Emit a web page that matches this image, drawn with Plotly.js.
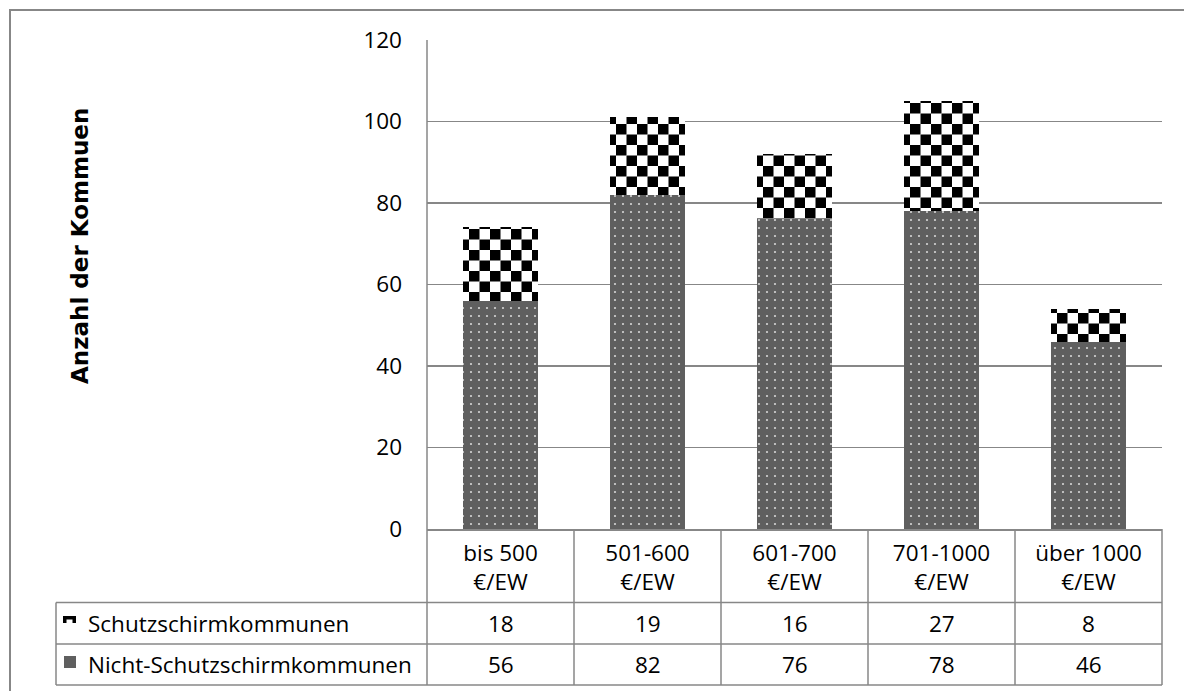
<!DOCTYPE html>
<html><head><meta charset="utf-8">
<script src="https://cdn.plot.ly/plotly-3.0.1.min.js"></script>
<style>html,body{margin:0;padding:0;background:#fff;}#chart{width:1184px;height:691px;}</style>
</head><body><div id="chart"></div>
<script>
// ---- data ----
const categories = ['bis 500<br>€/EW', '501-600<br>€/EW', '601-700<br>€/EW', '701-1000<br>€/EW', 'über 1000<br>€/EW'];
const seriesNames = ['Schutzschirmkommunen', 'Nicht-Schutzschirmkommunen'];
const schutz = [18, 19, 16, 27, 8];
const nicht = [56, 82, 76, 78, 46];
const yTicks = [0, 20, 40, 60, 80, 100, 120];
const yTitle = 'Anzahl der Kommuen';

// ---- layout helpers (pixel -> paper) ----
const PL = 427, PR = 1162, PT = 40, PB = 529;
const px = v => (v - PL) / (PR - PL);
const py = v => (PB - v) / (PB - PT);
const FONT = 'Open Sans';
const FS = 22.5;
const LINE = '#878787';

const rowY = [py(623.2), py(664.5)];
const rowBottom = [py(602.5), py(644), py(685)];
const tableLeft = px(56);

const traces = [
  {
    type: 'bar', x: categories, y: nicht, name: seriesNames[1],
    marker: { color: '#5f5f5f', line: { width: 0 },
      pattern: { shape: '.', bgcolor: '#5f5f5f', fgcolor: '#d4d4d4', size: 8, solidity: 0.06 } },
    hoverinfo: 'skip'
  },
  {
    type: 'bar', x: categories, y: schutz, name: seriesNames[0],
    marker: { color: '#000000', line: { width: 0 },
      pattern: { shape: 'x', bgcolor: '#ffffff', fgcolor: '#000000', size: 21, solidity: 0.5 } },
    hoverinfo: 'skip'
  }
];

const shapes = [];
const ln = (x0, y0, x1, y1, w) => shapes.push({ type: 'line', xref: 'paper', yref: 'paper', x0, y0, x1, y1, line: { color: LINE, width: w || 1.5 } });
// outer frame
shapes.push({ type: 'rect', xref: 'paper', yref: 'paper', x0: px(10), y0: py(720), x1: px(1200), y1: py(10), line: { color: LINE, width: 2 }, fillcolor: 'rgba(0,0,0,0)' });
// y axis line extended through the table
ln(0, rowBottom[2], 0, 1);
// category boundaries through the table
for (let i = 1; i <= categories.length; i++) ln(i / categories.length, rowBottom[2], i / categories.length, 0);
// table left edge and horizontal lines
ln(tableLeft, rowBottom[2], tableLeft, rowBottom[0]);
rowBottom.forEach(y => ln(tableLeft, y, 1, y));
// legend keys in the table
shapes.push({ type: 'rect', xref: 'paper', yref: 'paper', x0: px(63), x1: px(76), y0: py(623), y1: py(616), fillcolor: '#000', line: { width: 0 } });
shapes.push({ type: 'rect', xref: 'paper', yref: 'paper', x0: px(66.5), x1: px(72.5), y0: py(623.5), y1: py(619.5), fillcolor: '#fff', line: { width: 0 } });
shapes.push({ type: 'rect', xref: 'paper', yref: 'paper', x0: px(64), x1: px(76), y0: py(668), y1: py(656), fillcolor: '#5f5f5f', line: { width: 0 } });

const annotations = [];
const txt = { family: FONT, size: FS, color: '#000' };
// y axis title (placed as rotated text, left of the tick labels)
annotations.push({
  xref: 'paper', yref: 'paper', x: px(80), y: py(246), text: yTitle, textangle: -90, showarrow: false,
  xanchor: 'center', yanchor: 'middle',
  font: { family: 'DejaVu Sans', size: 23, weight: 'bold', color: '#000' }
});
[seriesNames[0], seriesNames[1]].forEach((n, r) => annotations.push({
  xref: 'paper', yref: 'paper', x: px(86), y: rowY[r], text: n, showarrow: false,
  xanchor: 'left', yanchor: 'middle', font: txt
}));
categories.forEach((c, i) => {
  annotations.push({ xref: 'x', yref: 'paper', x: c, y: rowY[0], text: String(schutz[i]), showarrow: false, xanchor: 'center', yanchor: 'middle', font: txt });
  annotations.push({ xref: 'x', yref: 'paper', x: c, y: rowY[1], text: String(nicht[i]), showarrow: false, xanchor: 'center', yanchor: 'middle', font: txt });
});

const layout = {
  width: 1184, height: 691,
  margin: { l: PL, r: 1184 - PR, t: PT, b: 691 - PB, pad: 0 },
  paper_bgcolor: '#fff', plot_bgcolor: '#fff',
  barmode: 'stack', bargap: 0.49,
  showlegend: false,
  font: { family: FONT, size: FS, color: '#000' },
  xaxis: {
    type: 'category', showgrid: false, showline: true, linecolor: LINE, linewidth: 1.5,
    ticks: '', tickfont: txt, ticklabelstandoff: 3, automargin: false, fixedrange: true
  },
  yaxis: {
    range: [0, 120], tickvals: yTicks, ticktext: yTicks.map(String),
    showgrid: true, gridcolor: LINE, gridwidth: 1.5, zeroline: false, showline: false,
    ticks: '', tickfont: txt, ticklabelstandoff: 24, automargin: false, fixedrange: true,
    title: { text: '' }
  },
  shapes, annotations
};

const gd = document.getElementById('chart');
Plotly.newPlot(gd, traces, layout, { staticPlot: true, responsive: false }).then(applyChecker);

function applyChecker() {
  const tr = gd.querySelectorAll('.barlayer .trace')[1];
  if (!tr) return;
  const ids = new Set();
  tr.querySelectorAll('path').forEach(p => {
    const f = p.style.fill || p.getAttribute('fill') || '';
    const m = f.match(/#([^"')\s]+)/);
    if (m) ids.add(m[1]);
  });
  const NS = 'http://www.w3.org/2000/svg';
  ids.forEach(id => {
    const pat = document.getElementById(id);
    if (!pat) return;
    const s = 21, h = s / 2;
    pat.setAttribute('width', s); pat.setAttribute('height', s);
    pat.removeAttribute('patternTransform');
    while (pat.firstChild) pat.removeChild(pat.firstChild);
    const mk = (x, y, w, hh, c) => { const r = document.createElementNS(NS, 'rect'); r.setAttribute('x', x); r.setAttribute('y', y); r.setAttribute('width', w); r.setAttribute('height', hh); r.setAttribute('fill', c); pat.appendChild(r); };
    mk(0, 0, s, s, '#fff'); mk(0, 0, h, h, '#000'); mk(h, h, h, h, '#000');
  });
}
</script>
</body></html>
